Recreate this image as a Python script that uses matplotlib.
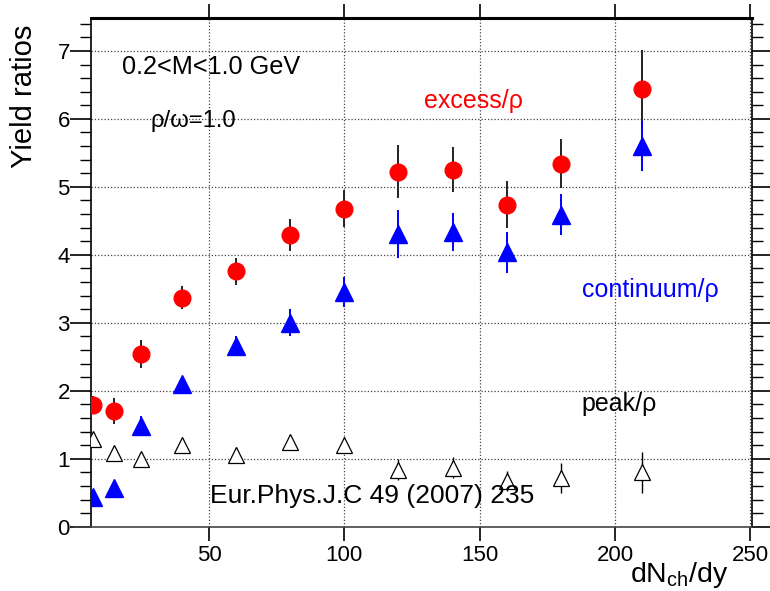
import matplotlib
matplotlib.use("Agg")
import matplotlib.pyplot as plt
from matplotlib.ticker import MultipleLocator

# ── data ────────────────────────────────────────────────────────────────────
dndy = [7, 15, 25, 40, 60, 80, 100, 120, 140, 160, 180, 210]

excess     = [1.79, 1.70, 2.54, 3.37, 3.76, 4.29, 4.68, 5.22, 5.25, 4.74, 5.34, 6.44]
excess_err = [0.13, 0.19, 0.20, 0.17, 0.20, 0.24, 0.27, 0.39, 0.33, 0.34, 0.36, 0.57]

continuum     = [0.44, 0.57, 1.48, 2.10, 2.66, 3.00, 3.45, 4.31, 4.34, 4.04, 4.59, 5.60]
continuum_err = [0.08, 0.10, 0.15, 0.10, 0.15, 0.20, 0.22, 0.35, 0.28, 0.30, 0.30, 0.37]

peak     = [1.29, 1.08, 1.00, 1.20, 1.05, 1.25, 1.20, 0.84, 0.87, 0.67, 0.72, 0.80]
peak_err = [0.08, 0.10, 0.10, 0.10, 0.12, 0.10, 0.12, 0.15, 0.16, 0.15, 0.22, 0.30]

# ── style ───────────────────────────────────────────────────────────────────
plt.rcParams.update({
    "font.family": ["Liberation Sans", "DejaVu Sans"],
    "mathtext.fontset": "custom",
    "mathtext.rm": "Liberation Sans",
    "mathtext.it": "Liberation Sans:italic",
    "mathtext.default": "regular",
})

W, H = 770, 591
fig = plt.figure(figsize=(W / 100, H / 100), dpi=100)
ax = fig.add_axes([90.7 / W, 1 - 526.7 / H, (751.7 - 90.7) / W, (526.7 - 18.3) / H])

x_left = 6.3
ax.set_xlim(x_left, 250.5)
ax.set_ylim(0, 7.48)

# ── data series ─────────────────────────────────────────────────────────────
ax.errorbar(dndy, excess, yerr=excess_err, fmt="o", color="red", ms=12,
            ecolor="#222222", elinewidth=1.4, capsize=0, zorder=4)
ax.errorbar(dndy, continuum, yerr=continuum_err, fmt="^", color="blue", ms=13,
            ecolor="blue", elinewidth=1.4, capsize=0, zorder=4)
ax.errorbar(dndy, peak, yerr=peak_err, fmt="^", mfc="white", mec="black", mew=0.9,
            ms=11, ecolor="black", elinewidth=1.0, capsize=0, zorder=3)

# ── axes / ticks ────────────────────────────────────────────────────────────
ax.xaxis.set_major_locator(MultipleLocator(50))
ax.yaxis.set_major_locator(MultipleLocator(1))
ax.yaxis.set_minor_locator(MultipleLocator(0.2))
ax.tick_params(axis="x", which="major", direction="out", length=10, width=1.2,
               top=True, bottom=True, labelsize=16, pad=3)
ax.tick_params(axis="y", which="major", direction="out", length=15, width=1.2,
               left=True, right=True, labelsize=16, pad=0)
ax.tick_params(axis="y", which="minor", direction="out", length=8, width=1.0,
               left=True, right=True)

ax.grid(True, which="major", linestyle=(0, (1, 1.6)), color="#444444", linewidth=0.9)
ax.set_axisbelow(True)

for s in ["left", "right", "bottom"]:
    ax.spines[s].set_linewidth(1.2)
ax.spines["bottom"].set_color("#444444")
ax.spines["bottom"].set_bounds(0, 250.5)
ax.spines["top"].set_linewidth(2.2)

# ── annotations ─────────────────────────────────────────────────────────────
def ftext(px, py, s, **kw):
    fig.text(px / W, 1 - py / H, s, va="baseline", **kw)

ftext(121.7, 74, "0.2<M<1.0 GeV", fontsize=18.2)
ftext(150.7, 126.7, "ρ/ω=1.0", fontsize=17.2)
ftext(424, 107.7, "excess/ρ", fontsize=18, color="red")
ftext(581.7, 296.7, "continuum/ρ", fontsize=18, color="blue")
ftext(581.7, 411, "peak/ρ", fontsize=18)
ftext(210, 503.3, "Eur.Phys.J.C 49 (2007) 235", fontsize=19)

fig.text(24 / W, 1 - 25 / H, "Yield ratios", rotation=90, ha="center", va="top",
         fontsize=21)
ftext(728, 582, r"dN$_{ch}$/dy", fontsize=20.5, ha="right")

fig.savefig("out.png", dpi=100)
